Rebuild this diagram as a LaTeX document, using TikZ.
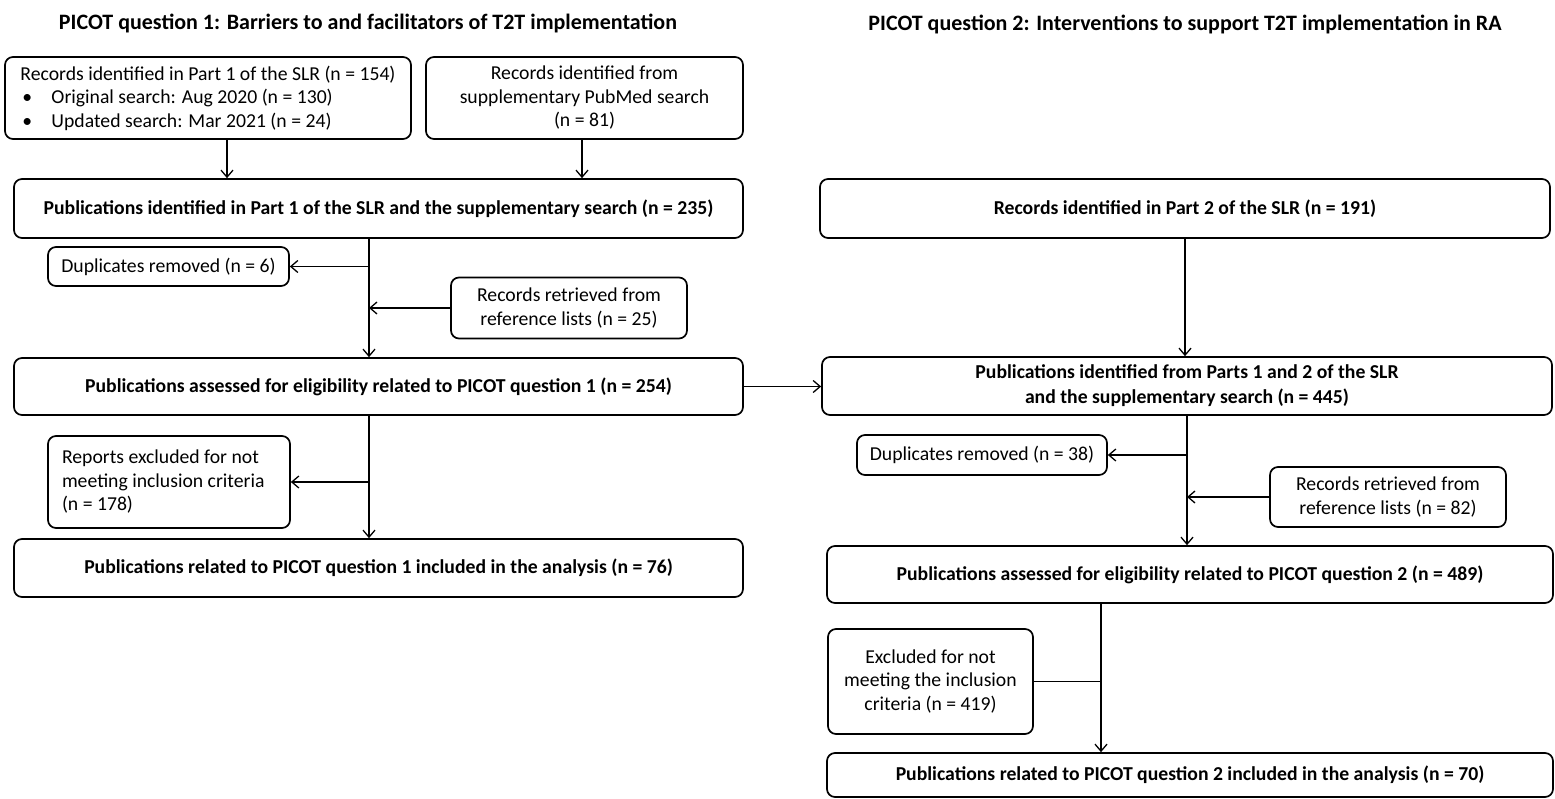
\documentclass[tikz,border=0pt]{standalone}
\usepackage{fontspec}
\setmainfont{Carlito}
\usetikzlibrary{arrows.meta,positioning}
\tikzset{>={Straight Barb[length=7pt,width=12pt]}}
\tikzset{box/.style={draw, rounded corners=8pt, line width=1.7pt, align=center,
    inner sep=0pt, font=\fontsize{19.7}{23.5}\selectfont}}
\tikzset{bigbox/.style={box, font=\fontsize{19.7}{25}\selectfont\bfseries}}
\tikzset{flow/.style={->, line width=1.3pt}}
\tikzset{plain/.style={line width=1.3pt}}

\begin{document}
\begin{tikzpicture}[x=1pt, y=-1pt]
    \tikzstyle{title}=[font=\fontsize{22}{26}\selectfont\bfseries]
    \useasboundingbox (0,0) rectangle (1555,799);
    % left column: question 1
    \node[title] (t1) at (368,23) {PICOT question 1: Barriers to and facilitators of T2T implementation};
    \node[box, align=left, minimum width=406, minimum height=82] (srch1) at (208,98)
      {Records identified in Part 1 of the SLR (n = 154)\\
       \makebox[31pt][l]{\hspace{2pt}•}Original search: Aug 2020 (n = 130)\\
       \makebox[31pt][l]{\hspace{2pt}•}Updated search: Mar 2021 (n = 24)};
    \node[box, minimum width=317, minimum height=82] (pubmed) at (584.5,98)
      {Records identified from\\supplementary PubMed search\\(n = 81)};
    \node[bigbox, minimum width=729, minimum height=59] (ident1) at (378.5,208.5)
      {Publications identified in Part 1 of the SLR and the supplementary search (n = 235)};
    \node[box, minimum width=241, minimum height=39] (dup1) at (168.5,266.5)
      {Duplicates removed (n = 6)};
    \node[box, minimum width=236, minimum height=61] (refs1) at (569,308)
      {Records retrieved from\\reference lists (n = 25)};
    \node[bigbox, minimum width=729, minimum height=57] (elig1) at (378.5,386.5)
      {Publications assessed for eligibility related to PICOT question 1 (n = 254)};
    \node[box, align=flush left, text width=214, minimum width=242, minimum height=92] (excl1) at (169,482)
      {Reports excluded for not\\meeting inclusion criteria\\(n = 178)};
    \node[bigbox, minimum width=729, minimum height=58] (incl1) at (378.5,568)
      {Publications related to PICOT question 1 included in the analysis (n = 76)};
    \coordinate (trunk1) at (369,0);
    \draw[flow] ([xshift=19pt]srch1.south) -- ([xshift=19pt]srch1.south |- ident1.north);
    \draw[flow] ([xshift=-2.5pt]pubmed.south) -- ([xshift=-2.5pt]pubmed.south |- ident1.north);
    \draw[flow] (ident1.south -| trunk1) -- (elig1.north -| trunk1);
    \draw[flow] (dup1.east -| trunk1) -- (dup1.east);
    \draw[flow] (refs1.west) -- (refs1.west -| trunk1);
    \draw[flow] (elig1.south -| trunk1) -- (incl1.north -| trunk1);
    \draw[flow] (excl1.east -| trunk1) -- (excl1.east);
    % right column: question 2
    \node[title] (t2) at (1185,24) {PICOT question 2: Interventions to support T2T implementation in RA};
    \node[bigbox, minimum width=730, minimum height=59] (part2) at (1185,208.5)
      {Records identified in Part 2 of the SLR (n = 191)};
    \node[bigbox, minimum width=730, minimum height=58] (pub2) at (1187,386)
      {Publications identified from Parts 1 and 2 of the SLR\\and the supplementary search (n = 445)};
    \node[box, minimum width=250, minimum height=40] (dup2) at (982,455)
      {Duplicates removed (n = 38)};
    \node[box, minimum width=236, minimum height=60] (refs2) at (1388,497)
      {Records retrieved from\\reference lists (n = 82)};
    \node[bigbox, minimum width=726, minimum height=57] (elig2) at (1190,574.5)
      {Publications assessed for eligibility related to PICOT question 2 (n = 489)};
    \node[box, minimum width=205, minimum height=105] (excl2) at (930.5,681.5)
      {Excluded for not\\meeting the inclusion\\criteria (n = 419)};
    \node[bigbox, minimum width=726, minimum height=44] (incl2) at (1190,775)
      {Publications related to PICOT question 2 included in the analysis (n = 70)};
    \coordinate (trunk2) at (1187,0);
    \coordinate (trunk3) at (1101,0);
    \draw[flow] (elig1.east) -- (elig1.east -| pub2.west);
    \draw[flow] (part2.south) -- (pub2.north -| part2.south);
    \draw[flow] (pub2.south -| trunk2) -- (elig2.north -| trunk2);
    \draw[flow] (dup2.east -| trunk2) -- (dup2.east);
    \draw[flow] (refs2.west) -- (refs2.west -| trunk2);
    \draw[flow] (elig2.south -| trunk3) -- (incl2.north -| trunk3);
    \draw[plain] (excl2.east) -- (excl2.east -| trunk3);
\end{tikzpicture}
\end{document}
